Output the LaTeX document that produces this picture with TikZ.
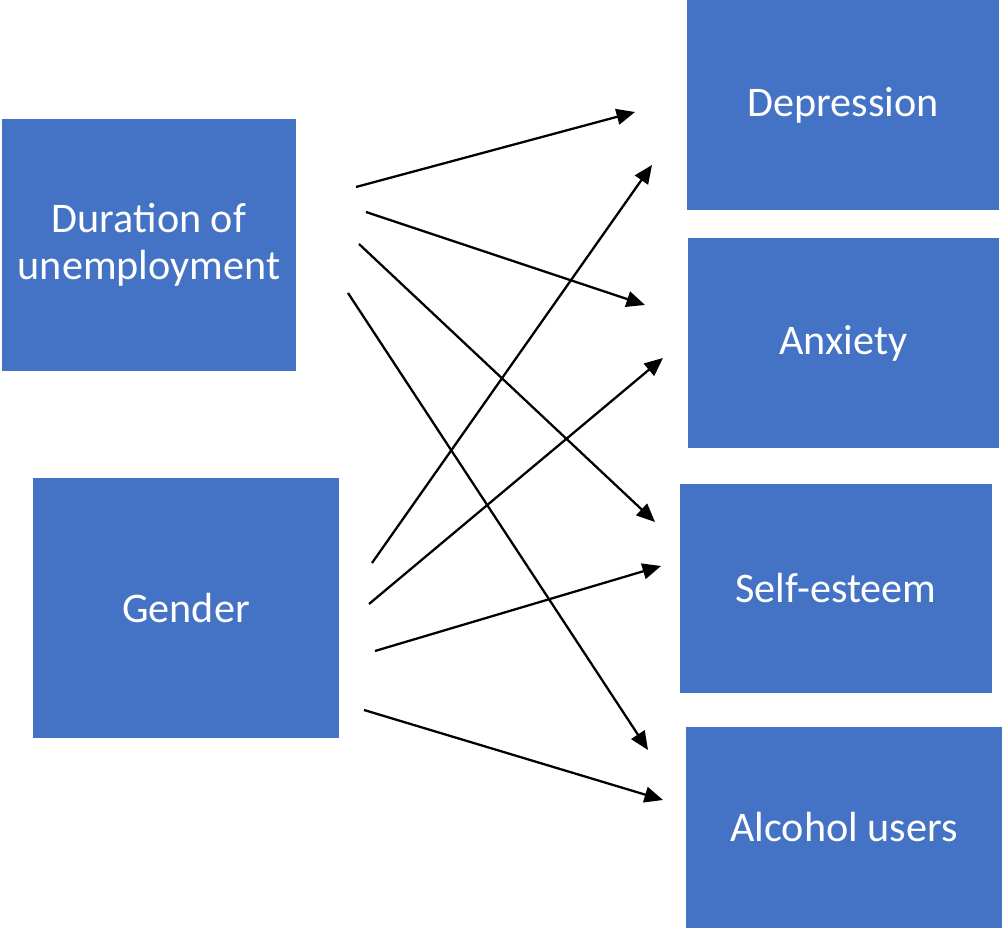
\documentclass[tikz,border=0pt]{standalone}
\usepackage{fontspec}
\setmainfont{Carlito}
\usetikzlibrary{arrows.meta}
\definecolor{boxblue}{HTML}{4472C4}
\tikzset{
	factor/.style={
		draw=none, fill=boxblue, text=white,
		inner sep=0, align=center,
		font=\fontsize{24}{26.5}\selectfont
	},
	effect/.style={
		draw=black, line width=1.3pt,
		-{Triangle[length=10.5pt,width=9pt]}
	}
}

\begin{document}
\begin{tikzpicture}[x=0.02cm,y=-0.02cm]
\useasboundingbox (0,0) rectangle (1002,928);
% predictors
\node[factor, minimum width=294*0.02cm, minimum height=252*0.02cm] (duration) at (149,245) {Duration of\\unemployment};
\node[factor, minimum width=306*0.02cm, minimum height=260*0.02cm] (gender) at (186,608) {Gender};
% outcomes
\node[factor, minimum width=312*0.02cm, minimum height=210*0.02cm] (depression) at (843,105) {Depression};
\node[factor, minimum width=311*0.02cm, minimum height=210*0.02cm] (anxiety) at (843.5,343) {Anxiety};
\node[factor, minimum width=312*0.02cm, minimum height=209*0.02cm] (selfesteem) at (836,588.5) {Self-esteem};
\node[factor, minimum width=316*0.02cm, minimum height=201*0.02cm] (alcohol) at (844,827.5) {Alcohol users};

% arrow ends
\coordinate (d1) at (356,187);  \coordinate (dep1) at (635,112);
\coordinate (d2) at (366,212);  \coordinate (anx1) at (645,305);
\coordinate (d3) at (359,244);  \coordinate (se1) at (655,522);
\coordinate (d4) at (348,293);  \coordinate (alc1) at (648,750);
\coordinate (g1) at (372,563);  \coordinate (dep2) at (652,165);
\coordinate (g2) at (369,604);  \coordinate (anx2) at (663,358);
\coordinate (g3) at (375,651);  \coordinate (se2) at (661,566);
\coordinate (g4) at (364,710);  \coordinate (alc2) at (663,800);

\foreach \a/\b in {d1/dep1,d2/anx1,d3/se1,d4/alc1,g1/dep2,g2/anx2,g3/se2,g4/alc2}{%
	\draw[effect] (\a) -- (\b);
}
\end{tikzpicture}
\end{document}
